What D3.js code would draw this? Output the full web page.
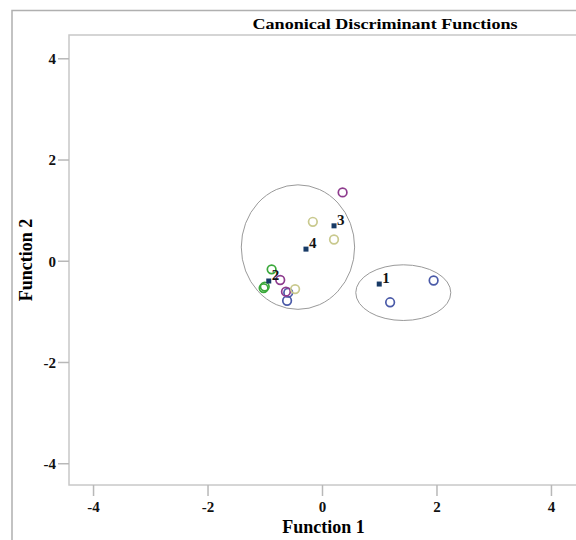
<!DOCTYPE html>
<html>
<head>
<meta charset="utf-8">
<script src="https://cdn.jsdelivr.net/npm/d3@7"></script>
<style>
  body { margin: 0; background: #fff; }
  svg { display: block; font-family: "Liberation Serif", "Times New Roman", serif; }
</style>
</head>
<body>
<div id="chart"></div>
<script>
var width = 576;
var height = 540;

// group cases (function 1, function 2)
var blueX = [1.95, 1.19, -0.59, -0.61];
var blueY = [-0.39, -0.82, -0.63, -0.79];
var purpleX = [0.36, -0.73, -0.63];
var purpleY = [1.35, -0.38, -0.61];
var greenX = [-0.88, -1.0, -1.02];
var greenY = [-0.17, -0.51, -0.54];
var khakiX = [-0.16, 0.21, -0.47];
var khakiY = [0.77, 0.42, -0.56];

// group centroids
var centroidLabels = ["1", "2", "3", "4"];
var centroidX = [1.0, -0.93, 0.21, -0.28];
var centroidY = [-0.46, -0.40, 0.69, 0.23];

// ellipses drawn round the clusters: centre and radii in function units
var ellipseCX = [-0.42, 1.42];
var ellipseCY = [0.27, -0.63];
var ellipseRX = [0.99, 0.83];
var ellipseRY = [1.23, 0.55];

var ticks = [-4, -2, 0, 2, 4];

var x = d3.scaleLinear().domain([-4.42, 4.42]).range([69, 575]);
var y = d3.scaleLinear().domain([-4.43, 4.46]).range([485, 35]);

var svg = d3.select("#chart").append("svg")
    .attr("width", width)
    .attr("height", height);

// outer frame
svg.append("rect")
    .attr("x", 12).attr("y", 10.5)
    .attr("width", 600).attr("height", 560)
    .attr("fill", "none")
    .attr("stroke", "#b0b0b0")
    .attr("stroke-width", 1.5);

// plot frame
svg.append("rect")
    .attr("x", 69).attr("y", 35)
    .attr("width", 560).attr("height", 450)
    .attr("fill", "none")
    .attr("stroke", "#c8c8c8")
    .attr("stroke-width", 1.5);

svg.append("text")
    .attr("x", 385)
    .attr("y", 29)
    .attr("text-anchor", "middle")
    .attr("font-size", 14)
    .attr("font-weight", "bold")
    .attr("textLength", 265)
    .attr("lengthAdjust", "spacingAndGlyphs")
    .text("Canonical Discriminant Functions");

var xAxis = svg.append("g")
    .attr("transform", "translate(0,485)")
    .call(d3.axisBottom(x).tickValues(ticks).tickSize(11).tickPadding(5).tickFormat(d3.format("d")));
var yAxis = svg.append("g")
    .attr("transform", "translate(69,0)")
    .call(d3.axisLeft(y).tickValues(ticks).tickSize(11).tickPadding(2).tickFormat(d3.format("d")));

[xAxis, yAxis].forEach(function (a) {
    a.select(".domain").remove();
    a.selectAll(".tick line").attr("stroke", "#b8b8b8").attr("stroke-width", 1.5);
    a.selectAll(".tick text")
        .attr("fill", "#111")
        .attr("font-family", "Liberation Serif, serif")
        .attr("font-size", 15)
        .attr("font-weight", "bold")
        .text(function (d) { return d < 0 ? "-" + Math.abs(d) : d; });
});
yAxis.selectAll(".tick text").attr("dy", "0.35em");

svg.append("text")
    .attr("x", 323.5)
    .attr("y", 533)
    .attr("text-anchor", "middle")
    .attr("font-size", 18)
    .attr("font-weight", "bold")
    .text("Function 1");

svg.append("text")
    .attr("transform", "translate(32,260) rotate(-90)")
    .attr("text-anchor", "middle")
    .attr("font-size", 18)
    .attr("font-weight", "bold")
    .text("Function 2");

// ellipses
svg.append("g").selectAll("ellipse")
    .data(d3.range(ellipseCX.length))
    .enter()
    .append("ellipse")
    .attr("cx", function (i) { return x(ellipseCX[i]); })
    .attr("cy", function (i) { return y(ellipseCY[i]); })
    .attr("rx", function (i) { return x(ellipseRX[i]) - x(0); })
    .attr("ry", function (i) { return y(0) - y(ellipseRY[i]); })
    .attr("fill", "none")
    .attr("stroke", "#9a9a9a")
    .attr("stroke-width", 1);

var groups = [
    { xs: blueX, ys: blueY, color: "#4a5aa8" },
    { xs: purpleX, ys: purpleY, color: "#8e3c8e" },
    { xs: greenX, ys: greenY, color: "#3aa83a" },
    { xs: khakiX, ys: khakiY, color: "#c9c98e" }
];

groups.forEach(function (g) {
    svg.append("g").selectAll("circle")
        .data(d3.range(g.xs.length))
        .enter()
        .append("circle")
        .attr("cx", function (i) { return x(g.xs[i]); })
        .attr("cy", function (i) { return y(g.ys[i]); })
        .attr("r", 4.3)
        .attr("fill", "none")
        .attr("stroke", g.color)
        .attr("stroke-width", 1.7);
});

var cent = svg.append("g").selectAll("g")
    .data(d3.range(centroidX.length))
    .enter()
    .append("g")
    .attr("transform", function (i) { return "translate(" + x(centroidX[i]) + "," + y(centroidY[i]) + ")"; });

cent.append("rect")
    .attr("x", -2.5).attr("y", -2.5)
    .attr("width", 5).attr("height", 5)
    .attr("fill", "#173a66");

cent.append("text")
    .attr("x", 3)
    .attr("y", -1)
    .attr("font-size", 15)
    .attr("font-weight", "bold")
    .attr("fill", "#111")
    .text(function (i) { return centroidLabels[i]; });
</script>
</body>
</html>
